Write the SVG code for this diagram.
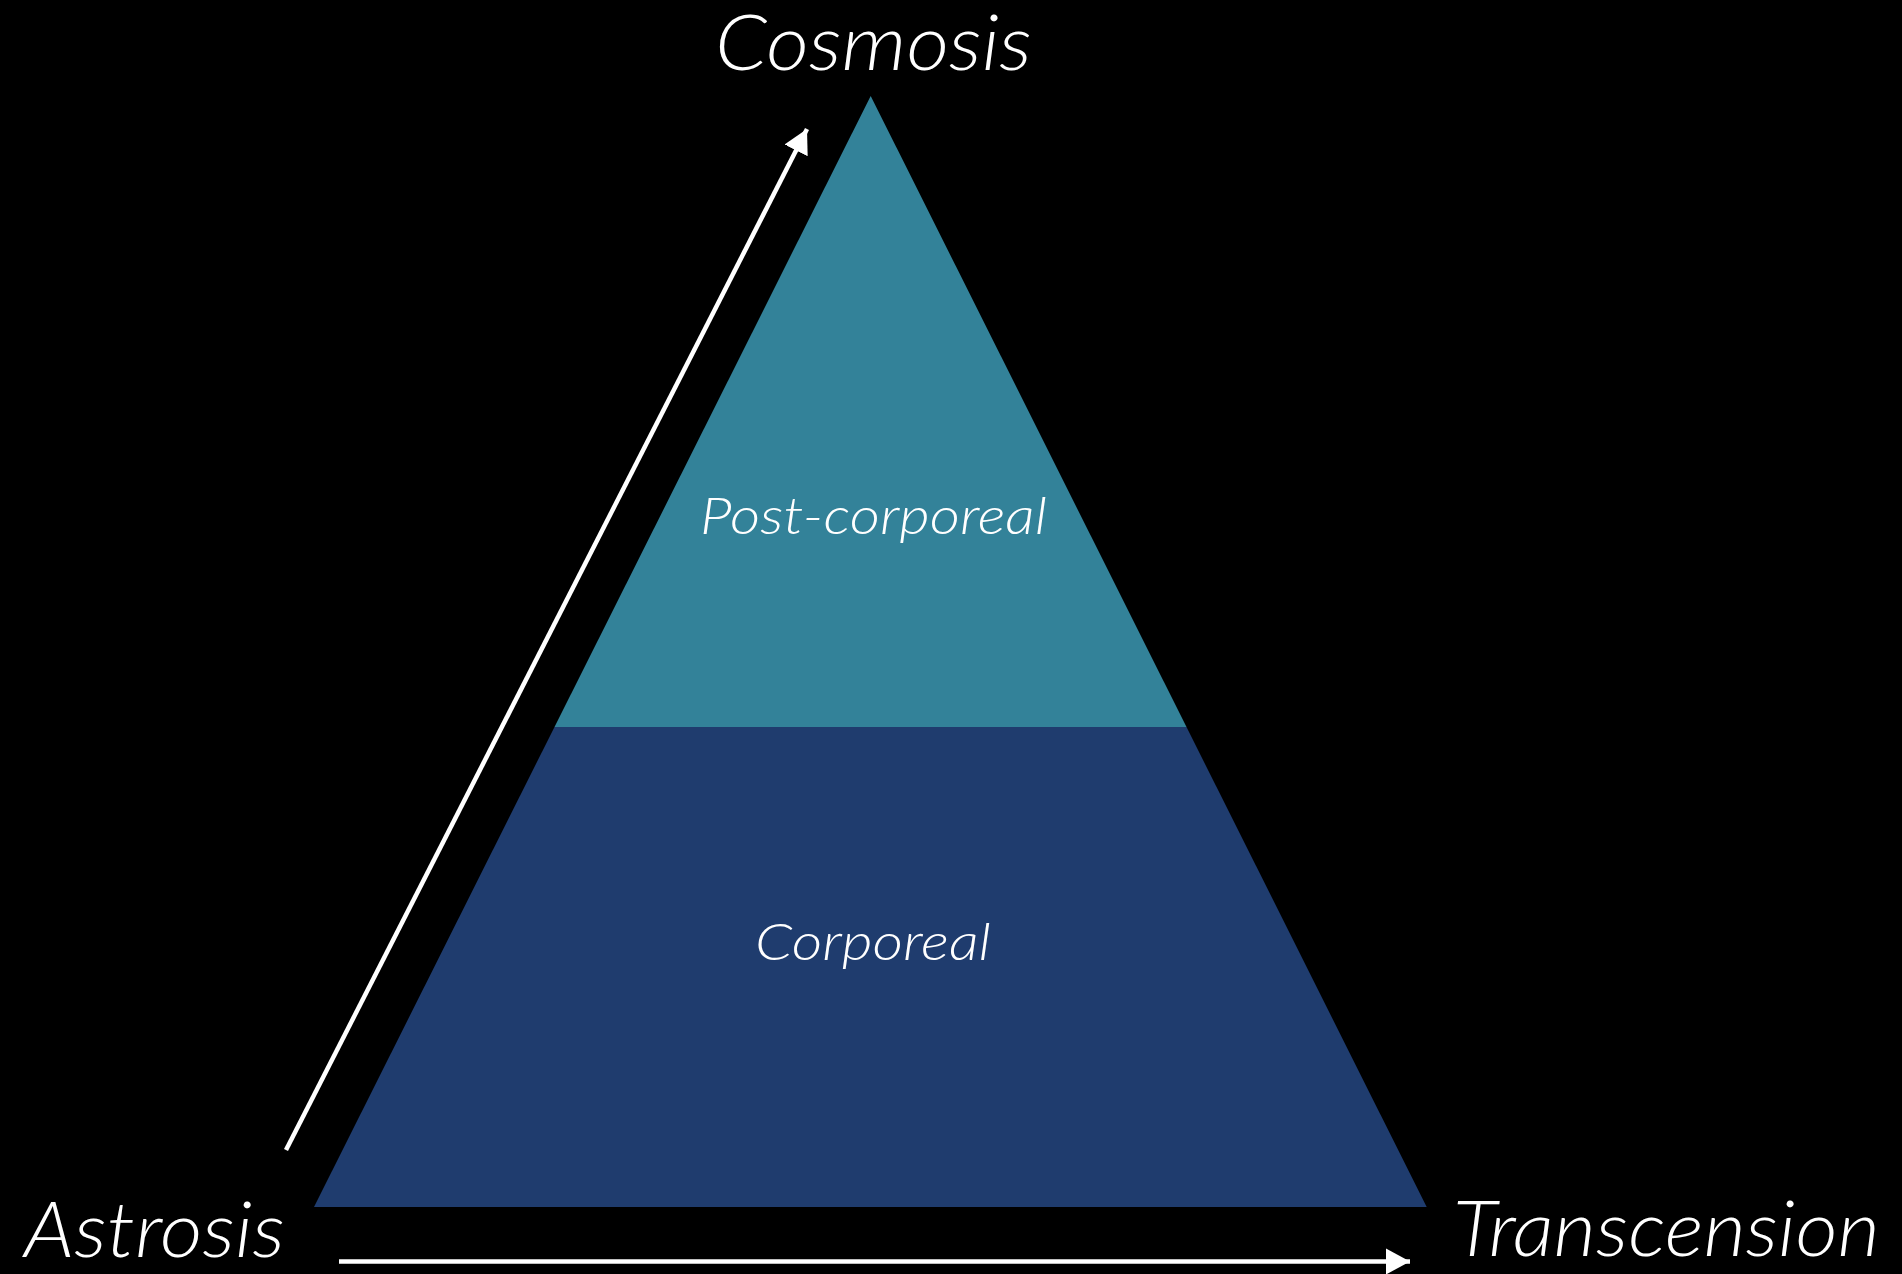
<svg xmlns="http://www.w3.org/2000/svg" width="1902" height="1274" viewBox="0 0 1902 1274">
<defs>
<style>
.lbl{font-family:"Lato","Open Sans","Liberation Sans",sans-serif;font-style:italic;font-weight:300;fill:#ffffff}
.big{font-size:76px}
.mid{font-size:52px}
.conn{stroke:#ffffff;stroke-width:4.5;fill:none}
</style>
<marker id="arr" markerUnits="userSpaceOnUse" markerWidth="26" markerHeight="28" refX="24" refY="13" orient="auto" viewBox="0 0 26 26">
<path d="M0,0 L24,13 L0,26 Z" fill="#ffffff"/>
</marker>
</defs>
<rect width="1902" height="1274" fill="#000000"/>
<g id="post-corporeal">
<polygon points="870.7,96 554.5,727 1186.5,727" fill="#338299"/>
<text class="lbl mid" x="873.5" y="534" text-anchor="middle" textLength="347" lengthAdjust="spacingAndGlyphs">Post-corporeal</text>
</g>
<g id="corporeal">
<polygon points="554.5,727 1186.5,727 1426.7,1207 314,1207" fill="#1f3c6e"/>
<text class="lbl mid" x="873" y="960" text-anchor="middle" textLength="236" lengthAdjust="spacingAndGlyphs">Corporeal</text>
</g>
<g id="cosmosis">
<text class="lbl big" x="873.5" y="70" text-anchor="middle" textLength="317" lengthAdjust="spacingAndGlyphs">Cosmosis</text>
</g>
<g id="astrosis">
<text class="lbl big" x="24" y="1257" textLength="261" lengthAdjust="spacingAndGlyphs">Astrosis</text>
</g>
<g id="transcension">
<text class="lbl big" x="1453" y="1256" textLength="427" lengthAdjust="spacingAndGlyphs">Transcension</text>
</g>
<g id="connectors">
<line class="conn" x1="286" y1="1150" x2="807" y2="129" marker-end="url(#arr)"/>
<line class="conn" x1="339" y1="1261.5" x2="1410" y2="1261.5" marker-end="url(#arr)"/>
</g>
</svg>
